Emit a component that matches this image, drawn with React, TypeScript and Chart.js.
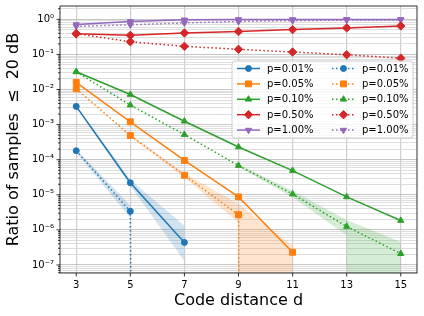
import React, { useEffect, useRef } from 'react';
import { Chart, registerables } from 'chart.js';

Chart.register(...registerables);

// ---------------- data ----------------
const DISTANCES = [3, 5, 7, 9, 11, 13, 15];
const X_TICKS = [3, 5, 7, 9, 11, 13, 15];
const Y_DECADES = [-7, -6, -5, -4, -3, -2, -1, 0];
const Y_DECADES_ALL = [-8, -7, -6, -5, -4, -3, -2, -1, 0];
const SERIES_LABELS = ['p=0.01%', 'p=0.05%', 'p=0.10%', 'p=0.50%', 'p=1.00%'];
const X_TITLE = 'Code distance d';
const Y_TITLE = 'Ratio of samples  ≤  20 dB';
const Y_MIN = 5.9e-8;
const Y_MAX = 2.4;

// solid-line series
const SOLID_P001 = [3.3e-3, 2.2e-5, 4.4e-7, null, null, null, null];
const SOLID_P005 = [1.6e-2, 1.2e-3, 9.5e-5, 8.7e-6, 2.3e-7, null, null];
const SOLID_P010 = [3.2e-2, 7.2e-3, 1.25e-3, 2.3e-4, 4.9e-5, 8.7e-6, 1.85e-6];
const SOLID_P050 = [0.39, 0.35, 0.41, 0.45, 0.51, 0.57, 0.65];
const SOLID_P100 = [0.71, 0.87, 0.97, 0.99, 0.99, 0.995, 0.995];

// dotted-line series (0 = no sample, drops off the log axis)
const DOTTED_P001 = [1.8e-4, 3.4e-6, 0, null, null, null, null];
const DOTTED_P005 = [1.05e-2, 4.9e-4, 3.6e-5, 2.7e-6, 0, null, null];
const DOTTED_P010 = [3.2e-2, 3.6e-3, 5.2e-4, 6.8e-5, 1.05e-5, 1.25e-6, 2.1e-7];
const DOTTED_P050 = [0.39, 0.23, 0.17, 0.14, 0.117, 0.098, 0.078];
const DOTTED_P100 = [0.63, 0.70, 0.79, 0.87, 0.92, 0.95, 0.96];

// confidence bands
const BAND_P001_SOLID_LO = [3.1e-3, 1.8e-5, 1.3e-7, null, null, null, null];
const BAND_P001_SOLID_HI = [3.5e-3, 2.7e-5, 1.3e-6, null, null, null, null];
const BAND_P001_DOTTED_LO = [1.6e-4, 2.2e-6, null, null, null, null, null];
const BAND_P001_DOTTED_HI = [2.0e-4, 5.0e-6, null, null, null, null, null];
const BAND_P005_DOTTED_LO = [null, 4.6e-4, 3.1e-5, 1.6e-6, 0, null, null];
const BAND_P005_DOTTED_HI = [null, 5.2e-4, 4.1e-5, 5.5e-6, 3.5e-7, null, null];
const BAND_P010_DOTTED_LO = [null, null, null, 6.2e-5, 8.5e-6, 7e-7, 0];
const BAND_P010_DOTTED_HI = [null, null, null, 7.4e-5, 1.3e-5, 1.9e-6, 4.5e-7];

// ---------------- styles ----------------
const COLORS = ['#1f77b4', '#ff7f0e', '#2ca02c', '#d62728', '#9467bd'];
const BAND_COLORS = [
  'rgba(31,119,180,0.2)',
  'rgba(255,127,14,0.2)',
  'rgba(44,160,44,0.2)',
];
const MARKERS = [
  { style: 'circle', r: 3, rot: 0 },
  { style: 'rect', r: 4.2, rot: 0 },
  { style: 'triangle', r: 3.6, rot: 0 },
  { style: 'rectRot', r: 4.2, rot: 0 },
  { style: 'triangle', r: 3.6, rot: 180 },
];
const FONT = 'DejaVu Sans';
const FLOOR = 1e-300;

const SOLID = [SOLID_P001, SOLID_P005, SOLID_P010, SOLID_P050, SOLID_P100];
const DOTTED = [DOTTED_P001, DOTTED_P005, DOTTED_P010, DOTTED_P050, DOTTED_P100];
const BANDS = [
  { lo: BAND_P001_SOLID_LO, hi: BAND_P001_SOLID_HI, k: 0 },
  { lo: BAND_P001_DOTTED_LO, hi: BAND_P001_DOTTED_HI, k: 0 },
  { lo: BAND_P005_DOTTED_LO, hi: BAND_P005_DOTTED_HI, k: 1 },
  { lo: BAND_P010_DOTTED_LO, hi: BAND_P010_DOTTED_HI, k: 2 },
];

const SUP: Record<string, string> = {
  '0': '⁰', '1': '¹', '2': '²', '3': '³', '4': '⁴', '5': '⁵', '6': '⁶', '7': '⁷', '8': '⁸', '9': '⁹', '-': '⁻',
};
const sup = (n: number) => String(n).split('').map((c) => SUP[c] || c).join('');

const isDecade = (v: number) => {
  const e = Math.log10(v);
  return Math.abs(e - Math.round(e)) < 1e-6;
};

const toPts = (vals: (number | null)[]) =>
  DISTANCES.map((d, i) => ({
    x: d,
    y: vals[i] === null ? null : vals[i] === 0 ? FLOOR : vals[i],
  }));

function markerPath(ctx: CanvasRenderingContext2D, style: string, x: number, y: number, r: number, rotDeg: number) {
  let rad = (rotDeg * Math.PI) / 180;
  ctx.beginPath();
  if (style === 'circle') {
    ctx.arc(x, y, r, 0, Math.PI * 2);
  } else if (style === 'rect') {
    const s = r * Math.SQRT1_2;
    ctx.rect(x - s, y - s, 2 * s, 2 * s);
  } else if (style === 'rectRot') {
    ctx.moveTo(x - r, y);
    ctx.lineTo(x, y - r);
    ctx.lineTo(x + r, y);
    ctx.lineTo(x, y + r);
  } else if (style === 'triangle') {
    for (let i = 0; i < 3; i++) {
      const px = x + Math.sin(rad) * r;
      const py = y - Math.cos(rad) * r;
      if (i === 0) ctx.moveTo(px, py);
      else ctx.lineTo(px, py);
      rad += (2 * Math.PI) / 3;
    }
  }
  ctx.closePath();
}

const axesAndLegendPlugin = {
  id: 'mplAxesLegend',
  afterDatasetsDraw(chart: any) {
    const { ctx, chartArea: a, scales } = chart;
    ctx.save();
    // spines
    ctx.strokeStyle = '#000';
    ctx.lineWidth = 0.8;
    ctx.strokeRect(a.left, a.top, a.right - a.left, a.bottom - a.top);
    // tick marks
    ctx.beginPath();
    scales.x.ticks.forEach((t: any) => {
      const px = scales.x.getPixelForValue(t.value);
      ctx.moveTo(px, a.bottom);
      ctx.lineTo(px, a.bottom + 3.5);
    });
    scales.y.ticks.forEach((t: any) => {
      const py = scales.y.getPixelForValue(t.value);
      const len = isDecade(t.value) ? 3.5 : 2;
      ctx.moveTo(a.left - len, py);
      ctx.lineTo(a.left, py);
    });
    ctx.stroke();

    // legend
    const w = 181;
    const h = 77;
    const lx0 = a.right - 4 - w;
    const ly0 = a.top + 55;
    const rr = 3;
    ctx.beginPath();
    ctx.moveTo(lx0 + rr, ly0);
    ctx.lineTo(lx0 + w - rr, ly0);
    ctx.quadraticCurveTo(lx0 + w, ly0, lx0 + w, ly0 + rr);
    ctx.lineTo(lx0 + w, ly0 + h - rr);
    ctx.quadraticCurveTo(lx0 + w, ly0 + h, lx0 + w - rr, ly0 + h);
    ctx.lineTo(lx0 + rr, ly0 + h);
    ctx.quadraticCurveTo(lx0, ly0 + h, lx0, ly0 + h - rr);
    ctx.lineTo(lx0, ly0 + rr);
    ctx.quadraticCurveTo(lx0, ly0, lx0 + rr, ly0);
    ctx.closePath();
    ctx.fillStyle = 'rgba(255,255,255,0.8)';
    ctx.fill();
    ctx.strokeStyle = '#cccccc';
    ctx.lineWidth = 1;
    ctx.stroke();

    ctx.font = `10px "${FONT}"`;
    ctx.textBaseline = 'middle';
    ctx.textAlign = 'left';
    for (let i = 0; i < 10; i++) {
      const ds = chart.data.datasets[i];
      const col = i < 5 ? 0 : 1;
      const row = i % 5;
      const k = row;
      const x = lx0 + 5 + col * 95;
      const y = ly0 + 7.5 + row * 15.4;
      ctx.strokeStyle = ds.borderColor;
      ctx.lineWidth = 1.5;
      ctx.setLineDash(ds.borderDash || []);
      ctx.beginPath();
      ctx.moveTo(x, y);
      ctx.lineTo(x + 23, y);
      ctx.stroke();
      ctx.setLineDash([]);
      const m = MARKERS[k];
      markerPath(ctx, m.style, x + 11.5, y, m.r, m.rot);
      ctx.fillStyle = ds.borderColor;
      ctx.fill();
      ctx.lineWidth = 1;
      ctx.stroke();
      ctx.fillStyle = '#000';
      ctx.fillText(ds.label, x + 30, y + 0.5);
    }
    ctx.restore();
  },
};

function buildDatasets() {
  const ds: any[] = [];
  const lineDs = (vals: (number | null)[], k: number, dotted: boolean) => ({
    label: SERIES_LABELS[k],
    data: toPts(vals),
    borderColor: COLORS[k],
    backgroundColor: COLORS[k],
    borderWidth: 1.5,
    borderDash: dotted ? [1.5, 2.5] : [],
    borderCapStyle: 'butt',
    pointStyle: MARKERS[k].style,
    pointRotation: MARKERS[k].rot,
    pointRadius: (c: any) => (c.raw && c.raw.y !== null && c.raw.y > 1e-200 ? MARKERS[k].r : 0),
    pointHoverRadius: 0,
    pointBorderWidth: 1,
    pointBorderColor: COLORS[k],
    pointBackgroundColor: COLORS[k],
    fill: false,
    tension: 0,
    spanGaps: false,
  });
  SOLID.forEach((v, k) => ds.push(lineDs(v, k, false)));
  DOTTED.forEach((v, k) => ds.push(lineDs(v, k, true)));
  BANDS.forEach((b) => {
    const idx = ds.length;
    ds.push({
      label: '',
      data: toPts(b.hi),
      borderColor: 'rgba(0,0,0,0)',
      borderWidth: 0,
      pointRadius: 0,
      pointHoverRadius: 0,
      backgroundColor: BAND_COLORS[b.k],
      fill: idx + 1,
      spanGaps: false,
    });
    ds.push({
      label: '',
      data: toPts(b.lo),
      borderColor: 'rgba(0,0,0,0)',
      borderWidth: 0,
      pointRadius: 0,
      pointHoverRadius: 0,
      backgroundColor: 'rgba(0,0,0,0)',
      fill: false,
      spanGaps: false,
    });
  });
  return ds;
}

export default function App() {
  const ref = useRef<HTMLCanvasElement | null>(null);
  useEffect(() => {
    document.body.style.margin = '0';
    if (!ref.current) return;
    const chart = new Chart(ref.current, {
      type: 'line',
      data: { datasets: buildDatasets() },
      options: {
        animation: false,
        responsive: false,
        devicePixelRatio: 1,
        layout: { padding: { top: 6, right: 7, left: 0, bottom: 0 } },
        plugins: {
          legend: { display: false },
          tooltip: { enabled: false },
        },
        scales: {
          x: {
            type: 'linear',
            min: 2.4,
            max: 15.6,
            afterBuildTicks: (scale: any) => {
              scale.ticks = X_TICKS.map((v) => ({ value: v }));
            },
            afterFit: (scale: any) => {
              scale.height = 43;
            },
            ticks: {
              autoSkip: false,
              padding: 6,
              color: '#000',
              font: { family: FONT, size: 10 },
              maxRotation: 0,
              callback: (v: any) => String(v),
            },
            grid: {
              drawTicks: false,
              color: '#cfcfcf',
              lineWidth: 1.2,
            },
            border: { display: false },
            title: {
              display: true,
              text: X_TITLE,
              color: '#000',
              font: { family: FONT, size: 16 },
              padding: { top: 0, bottom: 6 },
            },
          },
          y: {
            type: 'logarithmic',
            min: Y_MIN,
            max: Y_MAX,
            afterBuildTicks: (scale: any) => {
              const ticks: any[] = [];
              Y_DECADES_ALL.forEach((e) => {
                for (let m = 1; m <= 9; m++) {
                  const v = m * Math.pow(10, e);
                  if (v >= Y_MIN && v <= Y_MAX) ticks.push({ value: v, major: m === 1 });
                }
              });
              scale.ticks = ticks;
            },
            afterFit: (scale: any) => {
              scale.width = 60;
            },
            ticks: {
              autoSkip: false,
              padding: 6,
              color: '#000',
              font: { family: FONT, size: 10, lineHeight: 0 },
              callback: (v: any) => {
                const n = Number(v);
                if (!isDecade(n)) return '';
                const e = Math.round(Math.log10(n));
                return Y_DECADES.includes(e) ? '10' + sup(e) : '';
              },
            },
            grid: {
              drawTicks: false,
              color: (c: any) => (c.tick && isDecade(c.tick.value) ? '#b8b8b8' : '#d6d6d6'),
              lineWidth: 0.8,
            },
            border: { display: false },
            title: {
              display: true,
              text: Y_TITLE,
              color: '#000',
              font: { family: FONT, size: 16 },
              padding: { top: 4, bottom: 0 },
            },
          },
        },
      } as any,
      plugins: [axesAndLegendPlugin],
    });
    return () => chart.destroy();
  }, []);
  return (
    <div style={{ width: 424, height: 316 }}>
      <canvas ref={ref} width={424} height={316} style={{ width: 424, height: 316, display: 'block' }} />
    </div>
  );
}
